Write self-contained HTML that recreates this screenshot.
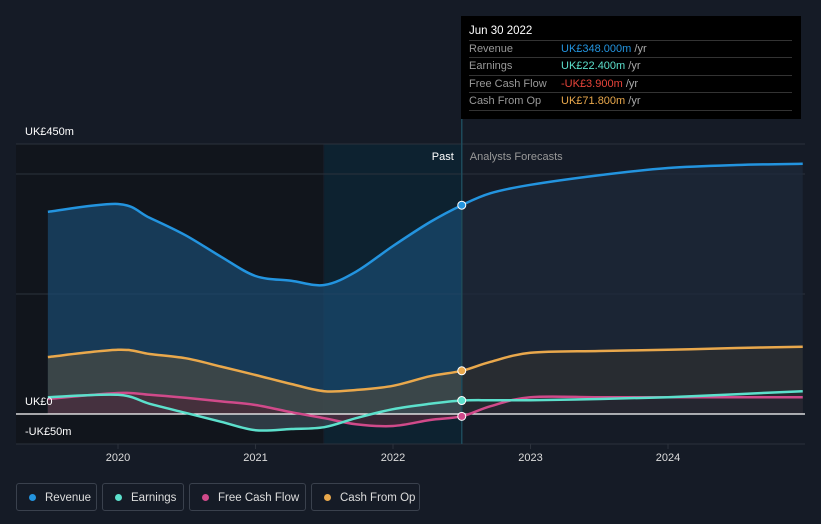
<!DOCTYPE html>
<html><head><meta charset="utf-8"><style>
body{margin:0;background:#151b26;font-family:"Liberation Sans",sans-serif;}
#wrap{position:relative;width:821px;height:524px;overflow:hidden;background:#151b26}
.tt{position:absolute;left:461px;top:16px;width:340px;height:103px;background:#000;color:#fff;font-size:11px}
.tt .h{position:absolute;left:8px;top:9px;font-size:11.5px}
.row{position:absolute;left:8px;width:323px;height:17px;border-top:1px solid #333;line-height:17px}
.row span.l{color:#999;position:absolute;left:0}
.row span.v{position:absolute;left:92px}
.u{color:#aaa}
.leg{position:absolute;top:483px;height:28px;border:1px solid #3a414d;border-radius:3px;color:#ddd;font-size:11.5px;line-height:28px;box-sizing:border-box}
.leg i{position:absolute;left:12px;top:10px;width:7px;height:7px;border-radius:50%}
.leg span{position:absolute;left:28px}
</style></head><body>
<div id="wrap">
<svg id="svg" width="821" height="524" style="position:absolute;left:0;top:0"></svg>
<div class="tt">
<div class="h">Jun 30 2022</div>
<div class="row" style="top:24px"><span class="l">Revenue</span><span class="v"><b style="font-weight:normal;color:#2394df">UK£348.000m</b> <span class="u">/yr</span></span></div>
<div class="row" style="top:41px"><span class="l">Earnings</span><span class="v"><b style="font-weight:normal;color:#5ce0cc">UK£22.400m</b> <span class="u">/yr</span></span></div>
<div class="row" style="top:59px"><span class="l">Free Cash Flow</span><span class="v"><b style="font-weight:normal;color:#e8443a">-UK£3.900m</b> <span class="u">/yr</span></span></div>
<div class="row" style="top:76px;border-bottom:1px solid #333"><span class="l">Cash From Op</span><span class="v"><b style="font-weight:normal;color:#e9a84c">UK£71.800m</b> <span class="u">/yr</span></span></div>
</div>
<div class="leg" style="left:16px;width:81px"><i style="background:#2394df"></i><span>Revenue</span></div>
<div class="leg" style="left:102px;width:82px"><i style="background:#5ce0cc"></i><span>Earnings</span></div>
<div class="leg" style="left:189px;width:117px"><i style="background:#d04a8a"></i><span>Free Cash Flow</span></div>
<div class="leg" style="left:311px;width:109px"><i style="background:#e9a84c"></i><span>Cash From Op</span></div>
</div>
<script>
const years=[2019.49,2020,2020.23,2020.49,2020.75,2021,2021.26,2021.5,2021.73,2022,2022.27,2022.5,2022.71,2023,2023.5,2024,2024.5,2024.98];
const revenue=[337,350,327,298,262,230,222,215,237,280,320,348,368,382,398,410,415,417];
const cfo=[95,107,100,93,79,65,50,38,40,47,63,72,87,102,105,107,110,112];
const earnings=[28,32,17,2,-13,-27,-25,-22,-7,8,17,22.4,23,23,25,28,33,38];
const fcf=[25,35,32,27,21,15,3,-7,-17,-20,-10,-3.9,13,28,28,28,28,28];
const yTicks=[450,0,-50];const yTickLabels=["UK£450m","UK£0","-UK£50m"];
const xTicks=[2020,2021,2022,2023,2024];
const pastEnd=2022.5;
const X=y=>118+(y-2020)*137.5, Y=v=>414-v*0.6;
const svg=document.getElementById('svg');const NS='http://www.w3.org/2000/svg';
function mk(t,a,p){const e=document.createElementNS(NS,t);for(const k in a)e.setAttribute(k,a[k]);(p||svg).appendChild(e);return e;}
function path(vals){const p=years.map((y,i)=>[X(y),Y(vals[i])]);let d='M'+p[0];for(let i=0;i<p.length-1;i++){const p0=p[i-1]||p[i],p1=p[i],p2=p[i+1],p3=p[i+2]||p2;const c1=[p1[0]+(p2[0]-p0[0])/6,p1[1]+(p2[1]-p0[1])/6],c2=[p2[0]-(p3[0]-p1[0])/6,p2[1]-(p3[1]-p1[1])/6];d+='C'+c1+' '+c2+' '+p2;}return d;}
// backgrounds
let r=mk('rect',{x:16,y:144,width:307,height:300,fill:'#11151c'});

r=mk('rect',{x:X(2021.5),y:144,width:X(pastEnd)-X(2021.5),height:300,fill:'#0d2230'});

// gridlines
[450,400,200].forEach(v=>{const l=mk('line',{x1:16,x2:805,y1:Y(v),y2:Y(v),stroke:'#2c323c'});
});
const x0=X(years[0]),xN=X(years[years.length-1]);
const defs=mk('defs',{});
mk('clipPath',{id:'cp'},defs);mk('rect',{x:0,y:0,width:X(pastEnd),height:524},defs.lastChild);
mk('clipPath',{id:'cf'},defs);mk('rect',{x:X(pastEnd),y:0,width:400,height:524},defs.lastChild);
const series=[[revenue,'#2394df','#1a4a70','#1e2a3a','revenue'],[cfo,'#e9a84c','#4a4a42','#2e2f30','cash-from-op'],[earnings,'#5ce0cc','#3a4a55','#22282f','earnings'],[fcf,'#d04a8a','#4a2838','#262530','free-cash-flow']];
series.forEach(s=>{const d=path(s[0])+`L${xN},${Y(0)}L${x0},${Y(0)}Z`;
let a=mk('path',{d,fill:s[2],'fill-opacity':0.7,'clip-path':'url(#cp)'});
a=mk('path',{d,fill:s[3],'fill-opacity':0.7,'clip-path':'url(#cf)'});});
const zl=mk('line',{x1:16,x2:805,y1:Y(0),y2:Y(0),stroke:'#fff','stroke-width':1.2});

const bl=mk('line',{x1:16,x2:805,y1:Y(-50),y2:Y(-50),stroke:'#2c323c'});

const dv=mk('line',{x1:X(pastEnd),x2:X(pastEnd),y1:16,y2:Y(-50),stroke:'#1d4a5a','stroke-width':1.5});

series.slice().reverse().forEach(s=>{const l=mk('path',{d:path(s[0]),fill:'none',stroke:s[1],'stroke-width':2.5});

const i=years.indexOf(pastEnd);const c=mk('circle',{cx:X(pastEnd),cy:Y(s[0][i]),r:4,fill:s[1],stroke:'#fff','stroke-width':1});
});
yTicks.forEach((v,i)=>{const t=mk('text',{x:25,y:Y(v)-9,fill:'#fff','font-size':11});t.textContent=yTickLabels[i];
if(v==-50)t.setAttribute('y',Y(v)-9);
});
xTicks.forEach(y=>{const tk=mk('line',{x1:X(y),x2:X(y),y1:Y(-50),y2:Y(-50)+5,stroke:'#2c323c'});

const t=mk('text',{x:X(y),y:461,fill:'#ddd','font-size':11,'text-anchor':'middle'});t.textContent=y;
});
let t=mk('text',{x:X(pastEnd)-8,y:160,fill:'#fff','font-size':11,'text-anchor':'end'});t.textContent='Past';

t=mk('text',{x:X(pastEnd)+8,y:160,fill:'#999','font-size':11});t.textContent='Analysts Forecasts';

</script>
</body></html>
